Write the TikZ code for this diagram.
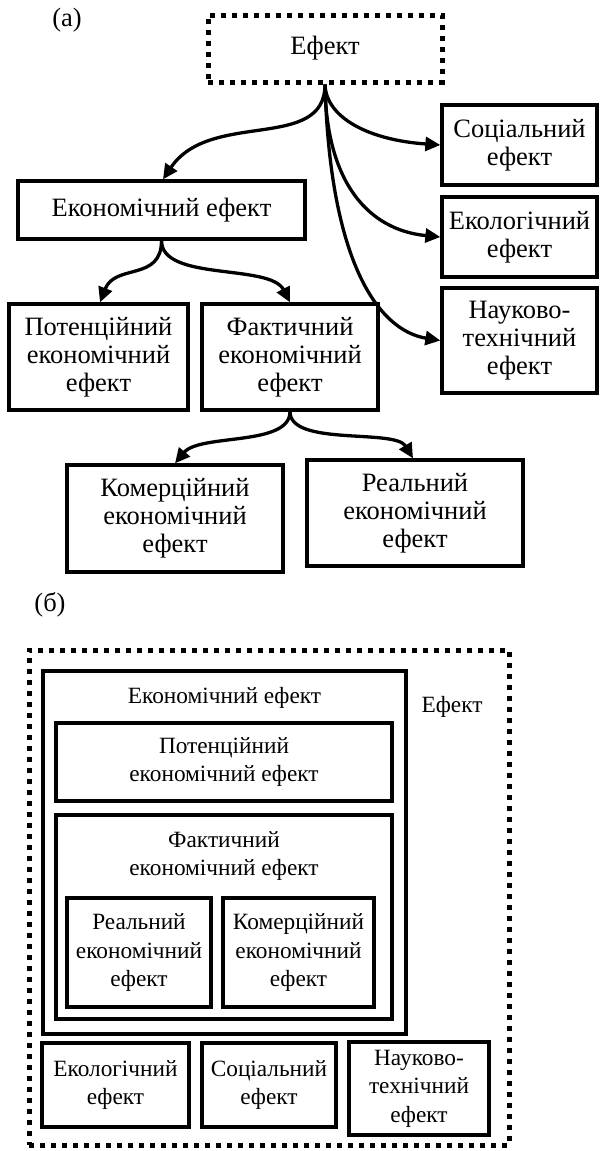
\documentclass[tikz,border=0pt]{standalone}
\usepackage{fontspec}
\setmainfont{Liberation Serif}
\usetikzlibrary{arrows.meta}
\newcommand{\dfont}{\fontsize{26.5}{28}\selectfont}
\newcommand{\bfontb}{\fontsize{23.3}{28.5}\selectfont}
\tikzset{
  box/.style={draw, line width=3.3pt, align=center, inner sep=1pt, font=\dfont},
  bbox/.style={box, font=\bfontb},
  dotbox/.style={draw, line width=5pt, dash pattern=on 5pt off 6pt, inner sep=0pt, font=\dfont},
  txt/.style={align=center, inner sep=0pt, font=\dfont},
  btxt/.style={txt, font=\bfontb},
  arr/.style={line width=3.3pt, -{Triangle[length=15pt,width=14pt]}},
}
\begin{document}
\begin{tikzpicture}[x=1pt,y=-1pt]
\useasboundingbox (0,0) rectangle (600,1151);
% ---------- (a) ----------
\node[txt] (la) at (67,20) {(a)};
\node[dotbox, minimum width=234, minimum height=67] (ef) at (325,48.5) {Ефект};
\node[box, minimum width=287, minimum height=58] (eco) at (161.5,210) {Економічний ефект};
\node[box, minimum width=179, minimum height=106] (pot) at (98.5,357) {Потенційний\\економічний\\ефект};
\node[box, minimum width=176, minimum height=106] (fakt) at (290,357) {Фактичний\\економічний\\ефект};
\node[box, minimum width=216, minimum height=107] (kom) at (175,518.5) {Комерційний\\економічний\\ефект};
\node[box, minimum width=216, minimum height=106] (real) at (415,513) {Реальний\\економічний\\ефект};
\node[box, minimum width=155, minimum height=80] (soc) at (519.5,145) {Соціальний\\ефект};
\node[box, minimum width=155, minimum height=80] (ekol) at (519.5,237) {Екологічний\\ефект};
\node[box, minimum width=155, minimum height=105] (nauk) at (519.5,340.5) {Науково-\\технічний\\ефект};
% connectors
\draw[arr] (ef.south) .. controls +(0,68) and +(47,-70) .. ([xshift=1.5pt]eco.north);
\draw[arr] (ef.south) .. controls +(1,33) and +(-72,-5) .. (soc.west);
\draw[arr] (ef.south) .. controls +(1,98) and +(-72,-7) .. (ekol.west);
\draw[arr] (ef.south) .. controls +(5,178) and +(-62,-10) .. (nauk.west);
\draw[arr] (eco.south) .. controls +(0,41) and +(15,-39) .. ([xshift=1.5pt]pot.north);
\draw[arr] (eco.south) .. controls +(0,41) and +(-20,-39) .. (fakt.north);
\draw[arr] (fakt.south) .. controls +(0,35) and +(25,-30) .. (kom.north);
\draw[arr] (fakt.south) .. controls +(0,35) and +(-18,-30) .. ([xshift=-2pt]real.north);
% ---------- (b) ----------
\node[txt] (lb) at (50,605) {(б)};
\node[dotbox, minimum width=480, minimum height=495] (bout) at (269,897.5) {};
\node[btxt] (boutt) at (452,707) {Ефект};
\node[bbox, minimum width=363, minimum height=363] (bec) at (224.5,852.5) {};
\node[btxt] (bect) at (224.5,698) {Економічний ефект};
\node[bbox, minimum width=336, minimum height=78] (bpot) at (224,762) {Потенційний\\економічний ефект};
\node[bbox, minimum width=336, minimum height=204] (bfak) at (224,917) {};
\node[btxt] (bfakt) at (224,856) {Фактичний\\економічний ефект};
\node[bbox, minimum width=144, minimum height=109] (breal) at (139,952.5) {Реальний\\економічний\\ефект};
\node[bbox, minimum width=151, minimum height=109] (bkom) at (298.5,952.5) {Комерційний\\економічний\\ефект};
\node[bbox, minimum width=147, minimum height=84] (bekol) at (115.5,1085) {Екологічний\\ефект};
\node[bbox, minimum width=134, minimum height=84] (bsoc) at (269,1085) {Соціальний\\ефект};
\node[bbox, minimum width=140, minimum height=93] (bnauk) at (419,1088.5) {Науково-\\технічний\\ефект};
\end{tikzpicture}
\end{document}
